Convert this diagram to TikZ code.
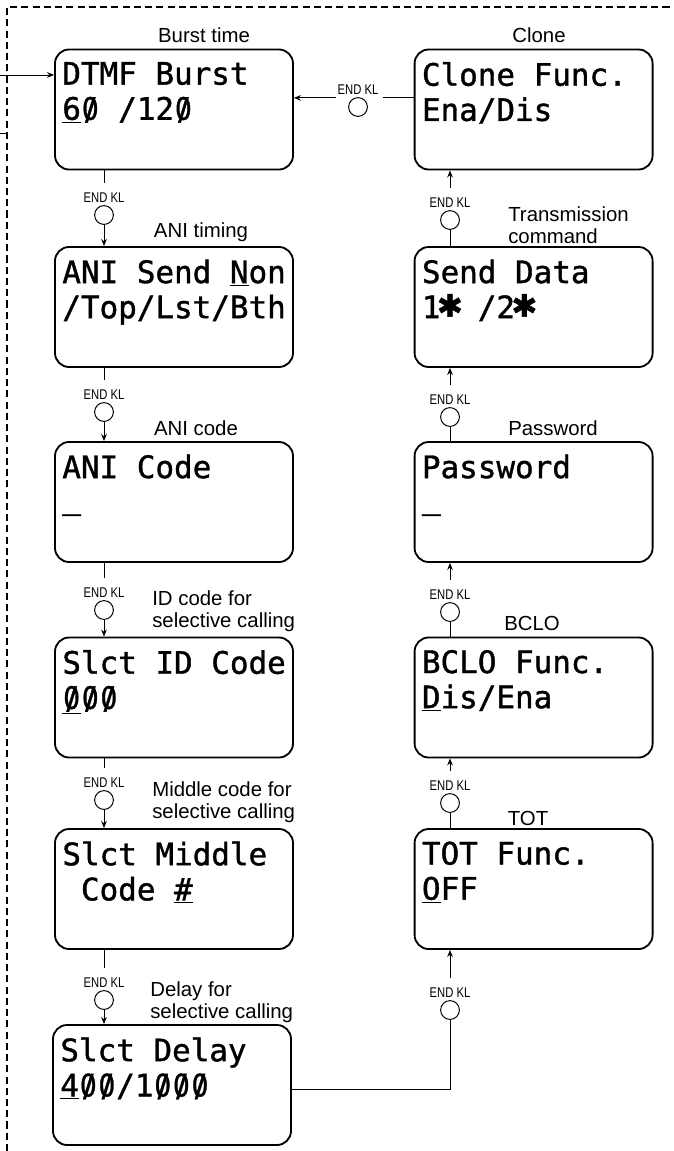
\documentclass[tikz,border=0pt]{standalone}
\usepackage{fontspec}
\setmainfont{Liberation Sans}
\newfontfamily\lcdfont[FakeBold=1.2]{DejaVu Sans Mono}
\newfontfamily\dvsfont[FakeBold=1.2]{DejaVu Sans}
\usetikzlibrary{positioning,arrows.meta,calc}
\newcommand{\zr}{\makebox[0.602em][c]{\makebox[0pt]{\dvsfont\scalebox{0.85}[1]{0}}\makebox[0pt]{\dvsfont /}}}
\newcommand{\hast}{\makebox[0.602em][c]{\dvsfont\raisebox{0.05em}{✱}}}
\newcommand{\kl}{\scalebox{0.8}[1]{END KL}}

\begin{document}
\begin{tikzpicture}[
  lcdBox/.style={draw, rounded corners=10pt, line width=1.3pt,
                 minimum width=5.95cm, minimum height=3cm, inner sep=0pt},
  lcdText/.style={anchor=north west, align=left, inner sep=0pt,
                  font=\lcdfont\fontsize{22}{25}\selectfont,
                  execute at begin node=\rule{0pt}{0.8em}},
  note/.style={inner sep=0pt, font=\fontsize{14.5}{15.8}\selectfont},
  keyCirc/.style={circle, draw, line width=0.7pt, minimum size=0.47cm,
                  inner sep=0pt},
  keyLbl/.style={inner sep=0pt, font=\fontsize{10}{10}\selectfont},
  link/.style={line width=0.7pt},
  flow/.style={link, -{Stealth[length=5pt, width=4pt]}},
  frame/.style={line width=0.8pt, dash pattern=on 5pt off 3pt}
]
  \useasboundingbox (0,0) rectangle (16.825,-28.775);

  % Dashed frame and lines coming in from the left
  \draw[frame] (0.175,-28.775) |- (16.825,-0.175);
  \coordinate (fr) at (0.175,-0.175);
  \coordinate (entry) at (0,-1.875);
  \coordinate (exitL) at (0,-3.33);
  \draw[link] (exitL) -- (exitL -| fr);

  % Left column
  \node[lcdBox] (burst) at (4.35,-2.7375) {};
  \node[lcdText] (burstTxt) at ([xshift=0.2cm,yshift=-0.33cm]burst.north west)
    {DTMF Burst\\\underline{6}\zr\ /12\zr};
  \node[note] (burstCap) at (5.1,-0.875) {Burst time};

  \node[lcdBox] (ani) at (4.35,-7.675) {};
  \node[lcdText] (aniTxt) at ([xshift=0.2cm,yshift=-0.33cm]ani.north west)
    {ANI Send \underline{N}on\\/Top/Lst/Bth};
  \node[note] (aniCap) at (5.025,-5.8) {ANI timing};

  \node[lcdBox] (code) at (4.35,-12.55) {};
  \node[lcdText] (codeTxt) at ([xshift=0.2cm,yshift=-0.33cm]code.north west)
    {ANI Code\\\raisebox{0.15em}{\_}};
  \node[note] (codeCap) at (4.9,-10.7) {ANI code};

  \node[lcdBox] (slid) at (4.35,-17.4375) {};
  \node[lcdText] (slidTxt) at ([xshift=0.2cm,yshift=-0.33cm]slid.north west)
    {Slct ID Code\\\underline{\zr}\zr\zr};
  \node[note, anchor=west, align=left] (slidCap) at (3.8,-15.275)
    {ID code for\\selective calling};

  \node[lcdBox] (middle) at (4.35,-22.225) {};
  \node[lcdText] (middleTxt) at ([xshift=0.2cm,yshift=-0.33cm]middle.north west)
    {Slct Middle\\~Code \underline{\#}};
  \node[note, anchor=west, align=left] (middleCap) at (3.8,-20.06)
    {Middle code for\\selective calling};

  \node[lcdBox] (delay) at (4.3,-27.125) {};
  \node[lcdText] (delayTxt) at ([xshift=0.2cm,yshift=-0.33cm]delay.north west)
    {Slct Delay\\\underline{4}\zr\zr/1\zr\zr\zr};
  \node[note, anchor=west, align=left] (delayCap) at (3.75,-25.06)
    {Delay for\\selective calling};

  % Right column
  \node[lcdBox] (clone) at (13.34,-2.7375) {};
  \node[lcdText] (cloneTxt) at ([xshift=0.2cm,yshift=-0.33cm]clone.north west)
    {Clone Func.\\Ena/Dis};
  \node[note] (cloneCap) at (13.475,-0.875) {Clone};

  \node[lcdBox] (send) at (13.34,-7.675) {};
  \node[lcdText] (sendTxt) at ([xshift=0.2cm,yshift=-0.33cm]send.north west)
    {Send Data\\1\hast\ /2\hast};
  \node[note, anchor=west, align=left] (sendCap) at (12.7,-5.625)
    {Transmission\\command};

  \node[lcdBox] (pass) at (13.34,-12.55) {};
  \node[lcdText] (passTxt) at ([xshift=0.2cm,yshift=-0.33cm]pass.north west)
    {Password\\\raisebox{0.15em}{\_}};
  \node[note] (passCap) at (13.825,-10.7) {Password};

  \node[lcdBox] (bclo) at (13.34,-17.4375) {};
  \node[lcdText] (bcloTxt) at ([xshift=0.2cm,yshift=-0.33cm]bclo.north west)
    {BCLO Func.\\\underline{D}is/Ena};
  \node[note] (bcloCap) at (13.3,-15.575) {BCLO};

  \node[lcdBox] (tot) at (13.34,-22.225) {};
  \node[lcdText] (totTxt) at ([xshift=0.2cm,yshift=-0.33cm]tot.north west)
    {TOT Func.\\\underline{O}FF};
  \node[note] (totCap) at (13.2,-20.45) {TOT};

  % END KL keys, left column (downwards)
  \node[keyCirc] (kAni) at (2.6,-5.375) {};
  \node[keyLbl, above=1.5pt of kAni] (kAniL) {\kl};
  \draw[link, shorten >=7pt] (burst.south -| kAni) -- (kAniL.north);
  \draw[flow] (kAni) -- (ani.north -| kAni);

  \node[keyCirc] (kCode) at (2.6,-10.3) {};
  \node[keyLbl, above=1.5pt of kCode] (kCodeL) {\kl};
  \draw[link, shorten >=7pt] (ani.south -| kCode) -- (kCodeL.north);
  \draw[flow] (kCode) -- (code.north -| kCode);

  \node[keyCirc] (kSlid) at (2.6,-15.25) {};
  \node[keyLbl, above=1.5pt of kSlid] (kSlidL) {\kl};
  \draw[link, shorten >=7pt] (code.south -| kSlid) -- (kSlidL.north);
  \draw[flow] (kSlid) -- (slid.north -| kSlid);

  \node[keyCirc] (kMiddle) at (2.6,-20.0) {};
  \node[keyLbl, above=1.5pt of kMiddle] (kMiddleL) {\kl};
  \draw[link, shorten >=7pt] (slid.south -| kMiddle) -- (kMiddleL.north);
  \draw[flow] (kMiddle) -- (middle.north -| kMiddle);

  \node[keyCirc] (kDelay) at (2.6,-25.0) {};
  \node[keyLbl, above=1.5pt of kDelay] (kDelayL) {\kl};
  \draw[link, shorten >=7pt] (middle.south -| kDelay) -- (kDelayL.north);
  \draw[flow] (kDelay) -- (delay.north -| kDelay);

  % END KL keys, right column (upwards)
  \node[keyCirc] (kTot) at (11.25,-25.25) {};
  \node[keyLbl, above=1.5pt of kTot] (kTotL) {\kl};
  \draw[link] ([yshift=-0.12cm]delay.east) -| (kTot);
  \draw[flow, shorten <=7pt] (kTotL.north) -- (tot.south -| kTotL);

  \node[keyCirc] (kBclo) at (11.25,-20.075) {};
  \node[keyLbl, above=1.5pt of kBclo] (kBcloL) {\kl};
  \draw[link] (tot.north -| kBclo) -- (kBclo);
  \draw[flow, shorten <=7pt] (kBcloL.north) -- (bclo.south -| kBcloL);

  \node[keyCirc] (kPass) at (11.25,-15.3) {};
  \node[keyLbl, above=1.5pt of kPass] (kPassL) {\kl};
  \draw[link] (bclo.north -| kPass) -- (kPass);
  \draw[flow, shorten <=7pt] (kPassL.north) -- (pass.south -| kPassL);

  \node[keyCirc] (kSend) at (11.25,-10.425) {};
  \node[keyLbl, above=1.5pt of kSend] (kSendL) {\kl};
  \draw[link] (pass.north -| kSend) -- (kSend);
  \draw[flow, shorten <=7pt] (kSendL.north) -- (send.south -| kSendL);

  \node[keyCirc] (kClone) at (11.25,-5.5) {};
  \node[keyLbl, above=1.5pt of kClone] (kCloneL) {\kl};
  \draw[link] (send.north -| kClone) -- (kClone);
  \draw[flow, shorten <=7pt] (kCloneL.north) -- (clone.south -| kCloneL);

  % Clone back to DTMF Burst
  \node[keyCirc] (kBurst) at (8.95,-2.675) {};
  \node[keyLbl, above=1.5pt of kBurst] (kBurstL) {\kl};
  \coordinate (cloneOut) at ([yshift=0.29cm]clone.west);
  \draw[link] (cloneOut) -- ($(cloneOut -| kBurstL.east)+(0.12,0)$);
  \draw[flow] ($(cloneOut -| kBurstL.west)+(-0.03,0)$) -- (cloneOut -| burst.east);

  % Entry into DTMF Burst
  \draw[flow] (entry) -- (entry -| burst.west);
\end{tikzpicture}
\end{document}
